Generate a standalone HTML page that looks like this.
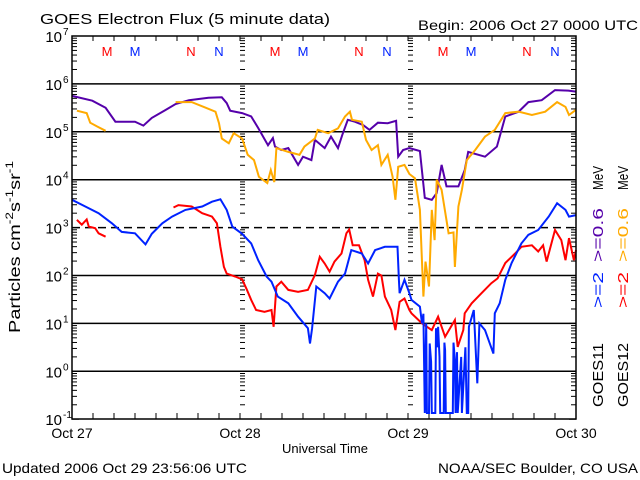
<!DOCTYPE html>
<html><head><meta charset="utf-8"><style>
html,body{margin:0;padding:0;background:#fff;}
svg{display:block;font-family:"Liberation Sans",sans-serif;}
</style></head><body>
<svg id="chart" width="640" height="480" viewBox="0 0 640 480" xmlns="http://www.w3.org/2000/svg">
<rect width="640" height="480" fill="#fff"/>
<text x="40" y="24" font-size="15" textLength="290" lengthAdjust="spacingAndGlyphs">GOES Electron Flux (5 minute data)</text>
<text x="418" y="30" font-size="14" textLength="220" lengthAdjust="spacingAndGlyphs">Begin: 2006 Oct 27 0000 UTC</text>
<text transform="translate(20,247) rotate(-90)" text-anchor="middle" font-size="16" textLength="172" lengthAdjust="spacingAndGlyphs">Particles cm<tspan font-size="11" dy="-7">-2</tspan><tspan dy="7">s</tspan><tspan font-size="11" dy="-7">-1</tspan><tspan dy="7">sr</tspan><tspan font-size="11" dy="-7">-1</tspan></text>
<text x="325" y="453" text-anchor="middle" font-size="13">Universal Time</text>
<text x="2" y="473" font-size="14" textLength="245" lengthAdjust="spacingAndGlyphs">Updated 2006 Oct 29 23:56:06 UTC</text>
<text x="638" y="473" text-anchor="end" font-size="14" textLength="200" lengthAdjust="spacingAndGlyphs">NOAA/SEC Boulder, CO USA</text>
<g font-size="15">
<text transform="translate(603,407) rotate(-90)" fill="#000" textLength="64" lengthAdjust="spacingAndGlyphs">GOES11</text>
<text transform="translate(603,308) rotate(-90)" fill="#0022ff" textLength="36" lengthAdjust="spacingAndGlyphs">&gt;=2</text>
<text transform="translate(603,262) rotate(-90)" fill="#5500aa" textLength="54" lengthAdjust="spacingAndGlyphs">&gt;=0.6</text>
<text transform="translate(603,190) rotate(-90)" fill="#000" textLength="24" lengthAdjust="spacingAndGlyphs">MeV</text>
</g>
<g font-size="15">
<text transform="translate(628,407) rotate(-90)" fill="#000" textLength="64" lengthAdjust="spacingAndGlyphs">GOES12</text>
<text transform="translate(628,308) rotate(-90)" fill="#ff0000" textLength="36" lengthAdjust="spacingAndGlyphs">&gt;=2</text>
<text transform="translate(628,262) rotate(-90)" fill="#ffaa00" textLength="54" lengthAdjust="spacingAndGlyphs">&gt;=0.6</text>
<text transform="translate(628,190) rotate(-90)" fill="#000" textLength="24" lengthAdjust="spacingAndGlyphs">MeV</text>
</g>
<g id="plot"></g>
</svg>
<script>
const yDecades = [-1,0,1,2,3,4,5,6,7];
const dayLabels = ["Oct 27","Oct 28","Oct 29","Oct 30"];
const markerLabels = ["M","M","N","N"];
const markerHours = [5,9,17,21];
const markerColors = ["#ff0000","#0022ff","#ff0000","#0022ff"];
// log10 flux values; hours from Oct 27 00:00
const g11LowHours = [0,2.9,4.8,6.2,7.6,9,10.2,11.4,13.3,14.8,16.7,19.5,21.4,22.1,22.6,24.3,25.6,26.6,28,28.7,29,29.9,30.9,32.3,33,34.2,34.7,36.1,37,38,38.6,39.4,40.4,41.6,42.5,43.7,45.1,46.3,46.6,47.3,48.2,49.7,50.4,51.4,52.1,52.8,53.5,55.2,56.1,56.6,59,60.7,61.9,63.8,65.2,67.1,69,70.9,72];
const g11LowLog = [5.75,5.65,5.5,5.21,5.21,5.21,5.13,5.29,5.45,5.58,5.66,5.71,5.72,5.6,5.44,5.39,5.32,5.08,4.72,4.87,4.69,4.62,4.66,4.31,4.48,4.41,4.83,4.66,4.9,4.66,4.93,5.25,5.21,5.14,5.04,5.19,5.18,5.23,4.48,4.62,4.66,4.6,3.62,3.58,3.72,4.31,3.86,3.86,4.2,4.58,4.48,4.69,5.32,5.42,5.62,5.66,5.87,5.86,5.84];
const g12LowHours = [0.7,2.1,2.6,3.6,4.8,null,14.8,17.1,19,20.5,21,21.4,22.4,23.1,24.3,25.1,26,26.7,27.9,28.4,28.9,29.2,30.9,32.5,33.2,34.7,35.1,36.6,38,39,39.7,40,41.4,42,42.8,43.7,44.2,45.1,45.8,46.2,46.6,47.5,48.2,49,49.7,50.2,50.5,51,51.4,51.8,52.1,52.8,53.8,54.5,54.7,55.2,55.7,56.4,57.6,59,60.4,61.9,63.8,65.7,67.6,69.3,70.5,71,72];
const g12LowLog = [5.44,5.39,5.19,5.11,5.02,null,5.62,5.62,5.51,5.42,5.18,4.86,4.76,4.97,4.86,4.52,4.41,4.06,3.93,4.2,3.95,4.66,4.58,4.52,4.69,4.86,5.04,4.97,5.07,5.32,5.42,5.25,5.21,4.83,4.62,4.72,4.31,4.52,4.06,3.58,4.27,4.31,4.12,4.03,3.37,1.56,2.29,1.77,3.37,2.74,4.0,3.79,2.88,2.9,2.18,3.44,3.79,4.41,4.62,4.9,5.04,5.39,5.42,5.35,5.42,5.62,5.52,5.35,5.46];
const g11HighHours = [0,1.9,3.8,5.7,7.1,9,10.5,11.4,12.9,14.3,16.2,18.6,20,21.2,22.1,22.9,24.3,25.6,26.6,27.8,28.5,29.4,30.9,32.3,33.7,34,34.3,34.9,36.1,36.8,38,39,39.9,41.4,42.3,43.3,44.7,46.1,46.5,46.7,46.8,47.5,48.2,48.5,49.7,50.0,50.2,50.4,50.6,50.7,51.0,51.1,51.3,51.4,51.9,52.0,52.2,52.3,52.5,52.6,53.1,53.2,53.3,53.4,54.4,54.5,54.7,54.8,55.0,55.1,55.6,55.7,56.2,56.4,56.6,56.7,57.4,57.9,58.2,59,60.2,60.4,61.1,61.9,62.8,64.2,65.2,66.6,68.1,69.3,70.5,71,72];
const g11HighLog = [3.58,3.44,3.3,3.09,2.91,2.88,2.65,2.87,3.09,3.23,3.37,3.44,3.54,3.59,3.37,3.02,2.87,2.67,2.32,1.98,1.87,1.56,1.42,1.14,0.9,0.58,0.9,1.77,1.63,1.52,1.87,2.04,2.53,2.46,2.25,2.53,2.6,2.6,2.6,1.91,1.63,1.91,1.63,1.49,1.35,1.0,1.2,-0.87,1.0,-0.87,-0.87,0.58,0.2,-0.87,-0.87,0.9,0.5,0.93,0.3,-0.87,-0.87,0.6,0.44,-0.87,-0.87,0.6,0.23,-0.87,0.4,-0.87,0.3,-0.87,0.5,-0.87,-0.87,0.93,1.28,-0.25,1.0,0.86,0.37,1.21,1.42,1.91,2.26,2.67,2.85,2.95,3.23,3.51,3.37,3.23,3.26];
const g12HighHours = [0.7,1.4,2.1,2.4,3.3,3.8,4.8,null,14.5,15.2,17.1,18.6,20,20.7,21.2,21.7,22.1,23.3,24.3,24.9,25.6,26.3,27.5,28.5,28.8,29.2,29.9,30.9,32.3,33.7,34.7,35.4,36.1,36.8,37.5,38.5,39.2,39.6,40.1,41,41.8,42.3,43,43.7,44.2,44.7,45.6,46.2,46.8,47.5,48.2,48.5,50,51.4,52.3,53.3,54.7,55.1,55.9,56.1,57.1,58.5,59.9,60.8,61.9,63.3,64.2,65.7,66.6,67.3,67.8,69,69.9,70.5,71,71.7,72];
const g12HighLog = [3.16,3.06,3.17,3.02,2.99,2.88,2.81,null,3.42,3.47,3.44,3.3,3.23,3.09,2.6,2.18,2.04,1.98,1.92,1.73,1.49,1.28,1.24,1.28,0.93,1.77,1.87,1.7,1.66,1.7,2.01,2.39,2.25,2.08,2.29,2.46,2.88,2.96,2.63,2.63,2.32,1.91,1.56,2.04,2.0,1.56,1.28,0.86,1.45,1.52,1.28,1.21,1.0,0.86,1.14,0.72,1.07,0.51,0.86,1.21,1.42,1.63,1.84,1.94,2.26,2.46,2.6,2.63,2.5,2.63,2.29,2.95,2.74,2.32,2.78,2.32,2.53];

const X0=72, X1=576, Y0=36, DEC=47.9;
function xOf(h){return X0 + h*(X1-X0)/72;}
function yOf(l){return Y0 + (7-l)*DEC;}
const NS="http://www.w3.org/2000/svg";
const plot=document.getElementById('plot');
function mk(tag,attrs,parent){const e=document.createElementNS(NS,tag);for(const k in attrs)e.setAttribute(k,attrs[k]);(parent||plot).appendChild(e);return e;}

yDecades.forEach(d=>{
  if(d===-1||d===7) return;
  const g=mk('line',{x1:X0,x2:X1,y1:yOf(d),y2:yOf(d),stroke:'#000','stroke-width':1.5});
  
  
  if(d===3) g.setAttribute('stroke-dasharray','8,5');
});
const tickG=mk('g',{stroke:'#000','stroke-width':1});


for(let d=-1; d<7; d++){
  for(let m=1;m<=9;m++){
    const y=yOf(d+Math.log10(m)); const len=m===1?7:5;
    mk('line',{x1:X0,x2:X0+len,y1:y,y2:y},tickG);
    mk('line',{x1:X1-len,x2:X1,y1:y,y2:y},tickG);
    if(m>1){[1,2].forEach(k=>{const xd=xOf(24*k);mk('line',{x1:xd,x2:xd+5,y1:y,y2:y},tickG);});}
  }
}
for(let h=3;h<72;h+=3){
  const xt=xOf(h);
  mk('line',{x1:xt,x2:xt,y1:419,y2:413},tickG);
  mk('line',{x1:xt,x2:xt,y1:Y0,y2:Y0+5},tickG);
}
yDecades.forEach(d=>{
  const t=mk('text',{x:62,y:yOf(d)+6,'text-anchor':'end','font-size':15});
  
  
  t.textContent='10';
  const s=mk('text',{x:63,y:yOf(d)-1,'font-size':10},plot);
  
  
  s.textContent=String(d);
});
dayLabels.forEach((lab,i)=>{
  const t=mk('text',{x:xOf(24*i),y:438,'text-anchor':'middle','font-size':14});
  
  
  t.textContent=lab;
});
for(let day=0;day<3;day++){
  markerLabels.forEach((lab,i)=>{
    const t=mk('text',{x:xOf(24*day+markerHours[i]),y:56,'text-anchor':'middle','font-size':13,fill:markerColors[i]});
    
    
    t.textContent=lab;
  });
}
function series(hours,vals,color,name){
  let d='',pen=false;
  for(let i=0;i<hours.length;i++){
    if(hours[i]===null||vals[i]===null){pen=false;continue;}
    d+=(pen?'L':'M')+xOf(hours[i]).toFixed(1)+' '+yOf(vals[i]).toFixed(1)+' ';
    pen=true;
  }
  const p=mk('path',{d:d,fill:'none',stroke:color,'stroke-width':2,'stroke-linejoin':'miter'});
  
  
}
series(g11LowHours,g11LowLog,'#5500aa','series-goes11-0.6mev');
series(g12LowHours,g12LowLog,'#ffaa00','series-goes12-0.6mev');
series(g12HighHours,g12HighLog,'#ff0000','series-goes12-2mev');
series(g11HighHours,g11HighLog,'#0022ff','series-goes11-2mev');
const fr=mk('rect',{x:X0,y:Y0,width:X1-X0,height:419-Y0,fill:'none',stroke:'#000','stroke-width':1.5});


</script>
</body></html>
